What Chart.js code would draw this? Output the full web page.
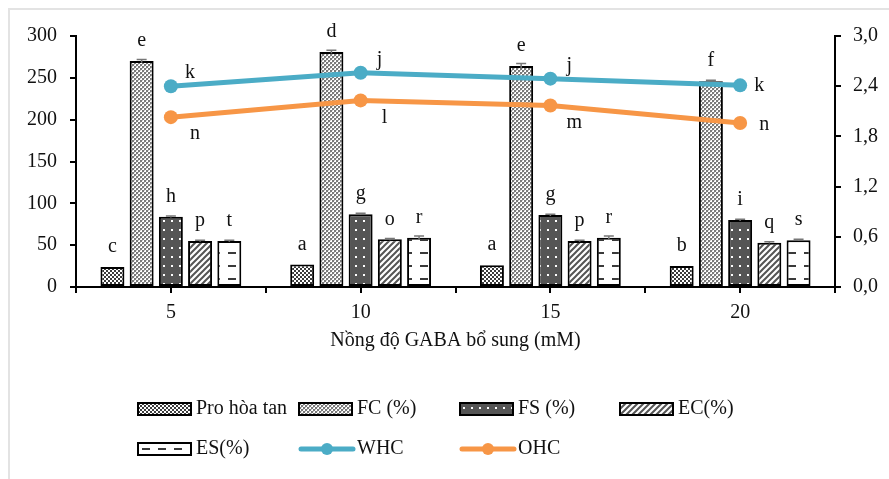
<!DOCTYPE html>
<html>
<head>
<meta charset="utf-8">
<script src="https://cdn.jsdelivr.net/npm/chart.js@4.4.1/dist/chart.umd.min.js"></script>
<style>
  body { margin: 0; background: #fff; }
  #wrap { position: relative; width: 889px; height: 479px; overflow: hidden; }
  #frame { position: absolute; left: 8px; top: 8px; width: 920px; height: 520px; border: 2px solid #e3e3e3; }
  canvas { position: absolute; left: 0; top: 0; }
</style>
</head>
<body>
<div id="wrap">
  <div id="frame"></div>
  <canvas id="chart" width="889" height="479"></canvas>
</div>
<script>
// Data
const concentrations = ['5', '10', '15', '20'];
const proHoaTan = [24, 27, 26, 25];
const fc = [270, 281, 264, 246];
const fs = [84, 87, 86, 80];
const ec = [55, 57, 55, 53];
const es = [55, 59, 59, 56];
const fcErr = [2, 2, 3, 1];
const fsErr = [1, 1, 1, 1];
const ecErr = [1, 1, 1, 1];
const esErr = [1, 2, 2, 1];
const whc = [2.40, 2.56, 2.49, 2.41];
const ohc = [2.03, 2.23, 2.17, 1.96];

const proLetters = ['c', 'a', 'a', 'b'];
const fcLetters = ['e', 'd', 'e', 'f'];
const fsLetters = ['h', 'g', 'g', 'i'];
const ecLetters = ['p', 'o', 'p', 'q'];
const esLetters = ['t', 'r', 'r', 's'];
const whcLetters = ['k', 'j', 'j', 'k'];
const ohcLetters = ['n', 'l', 'm', 'n'];

const FONT = '"Liberation Serif", "Times New Roman", serif';

function makePattern(w, h, draw) {
    const c = document.createElement('canvas');
    c.width = w; c.height = h;
    const g = c.getContext('2d');
    draw(g);
    return document.getElementById('chart').getContext('2d').createPattern(c, 'repeat');
}

// fine checker, darker
const proFill = makePattern(4, 4, g => {
    g.fillStyle = '#fff'; g.fillRect(0, 0, 4, 4);
    g.fillStyle = '#3c3c3c';
    g.fillRect(0, 0, 2, 2); g.fillRect(2, 2, 2, 2);
});
// lighter checker mesh
const fcFill = makePattern(4, 4, g => {
    g.fillStyle = '#fff'; g.fillRect(0, 0, 4, 4);
    g.fillStyle = '#7a7a7a';
    g.fillRect(0, 0, 2, 2); g.fillRect(2, 2, 2, 2);
    g.fillStyle = '#c8c8c8';
    g.fillRect(2, 0, 1, 1); g.fillRect(0, 2, 1, 1);
});
// dark with white dots
const fsFill = makePattern(8, 9, g => {
    g.fillStyle = '#555'; g.fillRect(0, 0, 8, 9);
    g.fillStyle = '#fff';
    g.fillRect(3, 4, 2, 2);
});
// diagonal stripes
const ecFill = makePattern(6, 6, g => {
    g.fillStyle = '#fff'; g.fillRect(0, 0, 6, 6);
    g.strokeStyle = '#555'; g.lineWidth = 2;
    g.beginPath();
    g.moveTo(-1, 7); g.lineTo(7, -1);
    g.moveTo(-4, 4); g.lineTo(4, -4);
    g.moveTo(2, 10); g.lineTo(10, 2);
    g.stroke();
});
// horizontal dashes
const esFill = makePattern(16, 13, g => {
    g.fillStyle = '#fff'; g.fillRect(0, 0, 16, 13);
    g.fillStyle = '#3a3a3a';
    g.fillRect(4, 5, 8, 2);
});

const letterMap = [proLetters, fcLetters, fsLetters, ecLetters, esLetters];
const errMap = [null, fcErr, fsErr, ecErr, esErr];

const barStyle = {
    borderColor: '#000',
    borderWidth: 2,
    borderSkipped: false,
    categoryPercentage: 0.77,
    barPercentage: 0.82,
    yAxisID: 'y',
    order: 1
};

const annotatePlugin = {
    id: 'annotate',
    afterDatasetsDraw(chart) {
        const ctx = chart.ctx;
        const y = chart.scales.y;
        ctx.save();
        // error bars
        for (let i = 1; i < 5; i++) {
            const meta = chart.getDatasetMeta(i);
            meta.data.forEach((bar, j) => {
                const v = chart.data.datasets[i].data[j];
                const e = errMap[i][j];
                const top = y.getPixelForValue(v + e);
                const bot = y.getPixelForValue(v - e);
                ctx.strokeStyle = '#777';
                ctx.lineWidth = 1.5;
                ctx.beginPath();
                ctx.moveTo(bar.x, top); ctx.lineTo(bar.x, bot);
                ctx.moveTo(bar.x - 5, top); ctx.lineTo(bar.x + 5, top);
                ctx.stroke();
            });
        }
        ctx.fillStyle = '#111';
        ctx.font = '20px ' + FONT;
        ctx.textAlign = 'center';
        ctx.textBaseline = 'middle';
        for (let i = 0; i < 5; i++) {
            const meta = chart.getDatasetMeta(i);
            meta.data.forEach((bar, j) => {
                ctx.fillText(letterMap[i][j], bar.x, bar.y - 20);
            });
        }
        const wMeta = chart.getDatasetMeta(5);
        wMeta.data.forEach((p, j) => {
            const dy = j === 3 ? 0 : -13;
            ctx.fillText(whcLetters[j], p.x + 19, p.y + dy);
        });
        const oMeta = chart.getDatasetMeta(6);
        oMeta.data.forEach((p, j) => {
            const dy = j === 3 ? 2 : 17;
            ctx.fillText(ohcLetters[j], p.x + 24, p.y + dy);
        });
        ctx.restore();
    },
    afterDraw(chart) {
        const ctx = chart.ctx;
        const x = chart.scales.x;
        const area = chart.chartArea;
        ctx.save();
        // center tick marks
        ctx.strokeStyle = '#000';
        ctx.lineWidth = 2;
        ctx.beginPath();
        concentrations.forEach((c, j) => {
            const px = Math.round(x.getPixelForValue(j));
            ctx.moveTo(px, area.bottom); ctx.lineTo(px, area.bottom + 6);
        });
        ctx.stroke();

        // legend in a fixed grid
        const items = [
            { ds: 0, col: 0, row: 0 }, { ds: 1, col: 1, row: 0 },
            { ds: 2, col: 2, row: 0 }, { ds: 3, col: 3, row: 0 },
            { ds: 4, col: 0, row: 1 }, { ds: 5, col: 1, row: 1 },
            { ds: 6, col: 2, row: 1 }
        ];
        const colX = [138, 299, 460, 620];
        const rowY = [409, 449];
        ctx.font = '20px ' + FONT;
        ctx.textBaseline = 'middle';
        ctx.textAlign = 'left';
        items.forEach(it => {
            const d = chart.data.datasets[it.ds];
            const lx = colX[it.col], ly = rowY[it.row];
            if (d.type === 'line') {
                ctx.strokeStyle = d.borderColor;
                ctx.lineWidth = 5;
                ctx.lineCap = 'round';
                ctx.beginPath();
                ctx.moveTo(lx + 2, ly); ctx.lineTo(lx + 54, ly);
                ctx.stroke();
                ctx.fillStyle = d.borderColor;
                ctx.beginPath();
                ctx.arc(lx + 28, ly, 6, 0, Math.PI * 2);
                ctx.fill();
            } else {
                ctx.save();
                ctx.translate(lx, ly - 6);
                ctx.fillStyle = d.backgroundColor;
                ctx.fillRect(0, 0, 53, 12);
                ctx.restore();
                ctx.strokeStyle = '#000';
                ctx.lineWidth = 2;
                ctx.strokeRect(lx, ly - 6, 53, 12);
            }
            ctx.fillStyle = '#111';
            ctx.fillText(d.label, lx + 58, ly);
        });
        ctx.restore();
    }
};

const ctx = document.getElementById('chart').getContext('2d');
const chart = new Chart(ctx, {
    type: 'bar',
    data: {
        labels: concentrations,
        datasets: [
            Object.assign({ label: 'Pro hòa tan', data: proHoaTan, backgroundColor: proFill }, barStyle),
            Object.assign({ label: 'FC (%)', data: fc, backgroundColor: fcFill }, barStyle),
            Object.assign({ label: 'FS (%)', data: fs, backgroundColor: fsFill }, barStyle),
            Object.assign({ label: 'EC(%)', data: ec, backgroundColor: ecFill }, barStyle),
            Object.assign({ label: 'ES(%)', data: es, backgroundColor: esFill }, barStyle),
            {
                type: 'line', label: 'WHC', data: whc, yAxisID: 'y1', order: 0,
                borderColor: '#4BACC6', backgroundColor: '#4BACC6',
                borderWidth: 5, pointRadius: 7, pointBorderWidth: 0,
                tension: 0, fill: false
            },
            {
                type: 'line', label: 'OHC', data: ohc, yAxisID: 'y1', order: 0,
                borderColor: '#F79646', backgroundColor: '#F79646',
                borderWidth: 5, pointRadius: 7, pointBorderWidth: 0,
                tension: 0, fill: false
            }
        ]
    },
    options: {
        responsive: false,
        animation: false,
        layout: { padding: { top: 36, left: 0, right: 0, bottom: 122 } },
        plugins: {
            legend: { display: false },
            tooltip: { enabled: false }
        },
        scales: {
            x: {
                offset: true,
                grid: { offset: true, drawOnChartArea: false, drawTicks: true, tickLength: 6, tickColor: '#000', lineWidth: 2 },
                border: { color: '#000', width: 2 },
                ticks: { color: '#111', padding: 8, font: { family: FONT, size: 20 } },
                title: {
                    display: true,
                    text: 'Nồng độ GABA bổ sung (mM)',
                    color: '#111',
                    font: { family: FONT, size: 20 },
                    padding: { top: 0, bottom: 4 }
                },
                afterFit(s) { s.height = 70; }
            },
            y: {
                position: 'left',
                min: 0, max: 300,
                ticks: { stepSize: 50, color: '#111', padding: 13, font: { family: FONT, size: 20 } },
                grid: { drawOnChartArea: false, drawTicks: true, tickLength: 6, tickColor: '#000', lineWidth: 2 },
                border: { color: '#000', width: 2 },
                afterFit(s) { s.width = 76; }
            },
            y1: {
                position: 'right',
                min: 0, max: 3,
                ticks: {
                    stepSize: 0.6, color: '#111', padding: 12,
                    font: { family: FONT, size: 20 },
                    callback: v => v.toFixed(1).replace('.', ',')
                },
                grid: { drawOnChartArea: false, drawTicks: true, tickLength: 6, tickColor: '#000', lineWidth: 2 },
                border: { color: '#000', width: 2 },
                afterFit(s) { s.width = 54; }
            }
        }
    },
    plugins: [annotatePlugin]
});
</script>
</body>
</html>
